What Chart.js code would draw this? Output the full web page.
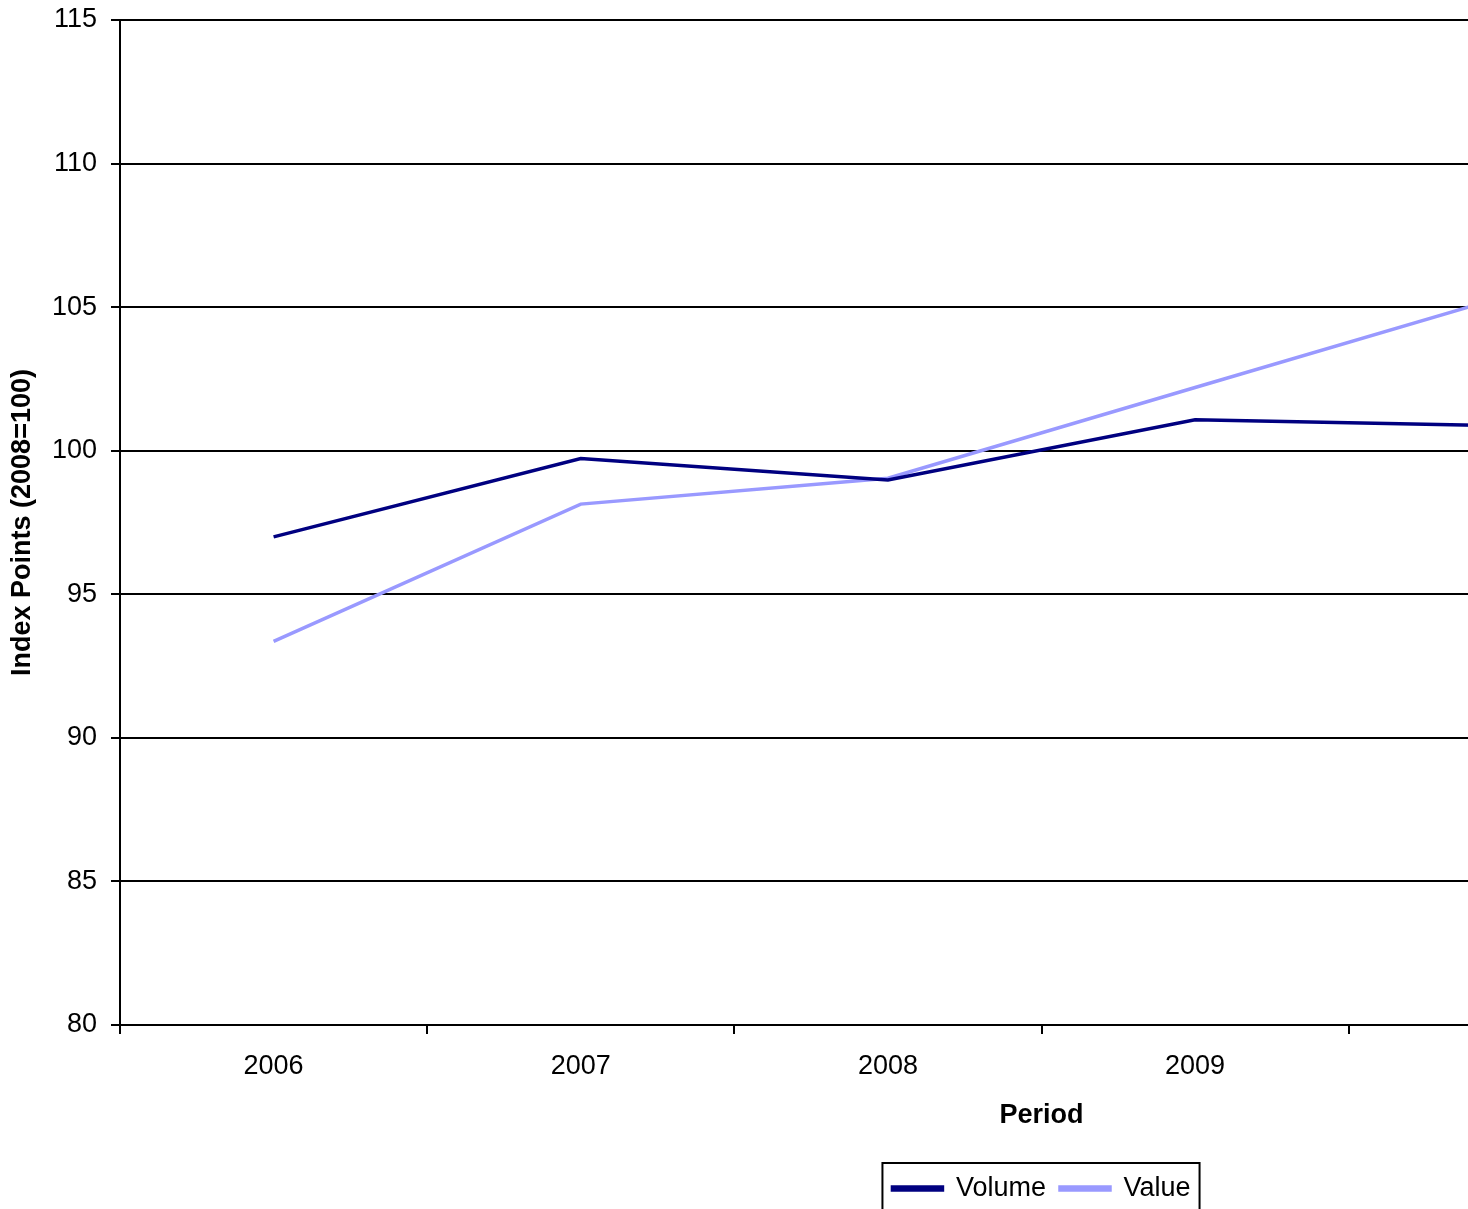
<!DOCTYPE html>
<html>
<head>
<meta charset="utf-8">
<title>Index Points (2008=100)</title>
<script src="https://cdn.jsdelivr.net/npm/chart.js@4/dist/chart.umd.min.js"></script>
<style>
  html, body { margin: 0; padding: 0; background: #fff; overflow: hidden; }
  #wrap { position: relative; width: 2080px; height: 1220px; }
</style>
</head>
<body>
<div id="wrap"><canvas id="chart"></canvas></div>
<script>
// Annual index series, 2008 = 100
const periods = ['2006', '2007', '2008', '2009', '2010', '2011'];
const volumeIndex = [97.0, 99.73, 98.98, 101.08, 100.87, null];
const valueIndex = [93.36, 98.14, 99.04, 102.2, 105.35, null];
const yTicks = [80, 85, 90, 95, 100, 105, 110, 115];

const FONT = "'Liberation Sans', Arial, sans-serif";

// Keep the legend centred under the plot area rather than the whole canvas
const legendUnderPlot = {
  id: 'legendUnderPlot',
  afterLayout(chart) {
    const lg = chart.legend;
    const ca = chart.chartArea;
    if (!lg || !ca) return;
    lg.left = ca.left;
    lg.right = ca.right;
    lg.width = ca.right - ca.left;
  }
};

// Frame drawn around the legend items
const legendFrame = {
  id: 'legendFrame',
  afterDraw(chart) {
    const boxes = chart.legend && chart.legend.legendHitBoxes;
    if (!boxes || !boxes.length) return;
    const left = Math.min(...boxes.map(b => b.left)) - 10;
    const right = Math.max(...boxes.map(b => b.left + b.width)) + 9;
    const top = Math.min(...boxes.map(b => b.top)) - 12;
    const bottom = Math.max(...boxes.map(b => b.top + b.height)) + 12;
    const ctx = chart.ctx;
    ctx.save();
    ctx.strokeStyle = '#000';
    ctx.lineWidth = 2;
    ctx.strokeRect(left, top, right - left, bottom - top);
    ctx.restore();
  }
};

new Chart(document.getElementById('chart'), {
  type: 'line',
  data: {
    labels: periods,
    datasets: [
      {
        label: 'Volume',
        data: volumeIndex,
        borderColor: '#000080',
        backgroundColor: '#000080',
        borderWidth: 3.5,
        pointRadius: 0,
        tension: 0,
        fill: false
      },
      {
        label: 'Value',
        data: valueIndex,
        borderColor: '#9999FF',
        backgroundColor: '#9999FF',
        borderWidth: 3.5,
        pointRadius: 0,
        tension: 0,
        fill: false
      }
    ]
  },
  options: {
    responsive: true,
    maintainAspectRatio: false,
    animation: false,
    devicePixelRatio: 1,
    layout: { padding: { top: 20, left: 0, right: 117, bottom: 8 } },
    plugins: {
      title: { display: false },
      tooltip: { enabled: false },
      legend: {
        display: true,
        position: 'bottom',
        labels: {
          color: '#000',
          font: { family: FONT, size: 27 },
          boxWidth: 50,
          boxHeight: 3,
          padding: 14
        }
      }
    },
    scales: {
      x: {
        type: 'category',
        offset: true,
        afterFit: s => { s.height = 136; },
        grid: {
          display: true,
          offset: true,
          drawOnChartArea: false,
          drawTicks: true,
          tickLength: 9,
          color: '#000',
          lineWidth: 2
        },
        border: { display: true, color: '#000', width: 2 },
        ticks: {
          color: '#000',
          font: { family: FONT, size: 27 },
          padding: 16,
          maxRotation: 0,
          autoSkip: false
        },
        title: {
          display: true,
          text: 'Period',
          color: '#000',
          font: { family: FONT, size: 27, weight: 'bold' },
          padding: { top: 0, bottom: 29 }
        }
      },
      y: {
        min: 80,
        max: 115,
        afterFit: s => {
          s.width = 120;
          s.paddingTop = 0;
          s.paddingBottom = 0;
        },
        afterBuildTicks: s => { s.ticks = yTicks.map(v => ({ value: v })); },
        grid: {
          display: true,
          drawTicks: true,
          tickLength: 9,
          color: '#000',
          lineWidth: 2
        },
        border: { display: true, color: '#000', width: 2 },
        ticks: {
          color: '#000',
          font: { family: FONT, size: 27 },
          padding: 14
        },
        title: {
          display: true,
          text: 'Index Points (2008=100)',
          color: '#000',
          font: { family: FONT, size: 27, weight: 'bold' },
          padding: { top: 6, bottom: 0 }
        }
      }
    }
  },
  plugins: [legendUnderPlot, legendFrame]
});
</script>
</body>
</html>
